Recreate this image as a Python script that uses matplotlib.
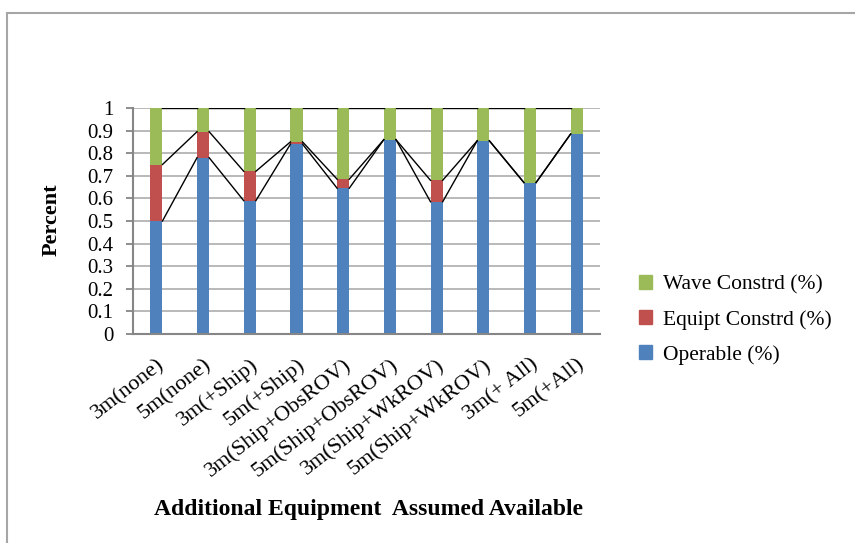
import numpy as np
import matplotlib
matplotlib.use('Agg')
import matplotlib.pyplot as plt
from matplotlib.patches import Rectangle, Patch

plt.rcParams['font.family'] = ['Liberation Serif', 'DejaVu Serif']

cases = ['3m(none)', '5m(none)', '3m(+Ship)', '5m(+Ship)', '3m(Ship+ObsROV)',
         '5m(Ship+ObsROV)', '3m(Ship+WkROV)', '5m(Ship+WkROV)', '3m(+ All)', '5m(+All)']
operable = [0.50, 0.78, 0.59, 0.84, 0.645, 0.86, 0.585, 0.855, 0.67, 0.885]
equipt = [0.25, 0.115, 0.13, 0.01, 0.04, 0.0, 0.095, 0.0, 0.0, 0.0]
wave = [0.25, 0.105, 0.28, 0.15, 0.315, 0.14, 0.32, 0.145, 0.33, 0.115]
series_names = ['Operable (%)', 'Equipt Constrd (%)', 'Wave Constrd (%)']
colors = ['#4F81BD', '#C0504D', '#9BBB59']

fig = plt.figure(figsize=(8.55, 5.43), dpi=100)
ax = fig.add_axes([0.1556, 0.3849, 0.5462, 0.4162])

# chart frame
fig.patches.append(Rectangle((7/855, -0.1), 1.2, 1 - 13/543 + 0.1, transform=fig.transFigure,
                             fill=False, edgecolor='#a6a6a6', lw=1.5))

x = np.arange(len(cases))
w = 0.26
bottom = np.zeros(len(cases))
levels = []
for vals, c in zip([operable, equipt, wave], colors):
    vals = np.array(vals)
    ax.bar(x, vals, w, bottom=bottom, color=c, zorder=2)
    bottom = bottom + vals
    levels.append(bottom.copy())

# series lines between neighbouring columns
for lev in levels:
    for i in range(len(cases) - 1):
        ax.plot([x[i] + w/2, x[i+1] - w/2], [lev[i], lev[i+1]], color='black', lw=1, zorder=3)

ax.set_xlim(-0.5, len(cases) - 0.5)
ax.set_ylim(0, 1)
ax.set_yticks(np.arange(0, 1.01, 0.1))
ax.set_yticklabels(['0'] + ['%.1f' % v for v in np.arange(0.1, 0.95, 0.1)] + ['1'])
ax.yaxis.grid(True, color='#b3b3b3', lw=1.3, zorder=0)
ax.set_axisbelow(True)
ax.tick_params(axis='y', labelsize=15, length=5, color='#868686', width=1.3, pad=9)
ax.set_xticks(x)
ax.set_xticklabels(cases, rotation=38, ha='right', va='top', rotation_mode='anchor', fontsize=16)
ax.tick_params(axis='x', length=0, pad=15)
for s in ['top', 'right']:
    ax.spines[s].set_visible(False)
for s in ['left', 'bottom']:
    ax.spines[s].set_color('#868686')
    ax.spines[s].set_linewidth(1.5)

fig.text(52/855, 1 - 220/543, 'Percent', rotation=90, ha='center', va='center',
         fontsize=16, fontweight='bold')
fig.text(368/855, 1 - 509/543, 'Additional Equipment  Assumed Available', ha='center', va='center',
         fontsize=17, fontweight='bold')

handles = [Patch(color=c) for c in colors][::-1]
fig.legend(handles, series_names[::-1], loc='center left', bbox_to_anchor=(620/855, 1 - 320/543),
           frameon=False, fontsize=15.5, handlelength=0.6, handleheight=0.6, handletextpad=0.5,
           labelspacing=0.7)

fig.savefig('out.png', dpi=100)
